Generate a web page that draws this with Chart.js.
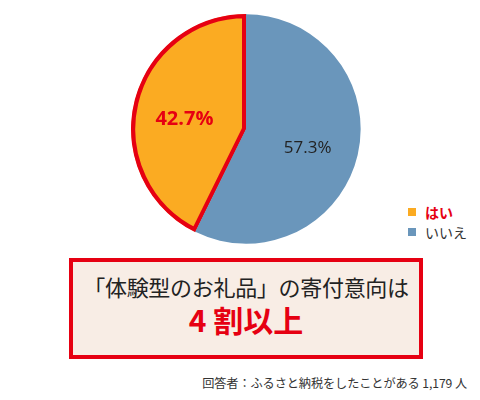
<!DOCTYPE html>
<html lang="ja">
<head>
<meta charset="utf-8">
<script src="https://cdn.jsdelivr.net/npm/chart.js@4.4.0/dist/chart.umd.min.js"></script>
<style>
    html, body {
        margin: 0;
        padding: 0;
        background: #fff;
        width: 480px;
        height: 400px;
        overflow: hidden;
        font-family: "Noto Sans CJK JP", "Noto Sans", sans-serif;
    }
    #chart-wrap {
        position: absolute;
        left: 131px;
        top: 14px;
        width: 230px;
        height: 230px;
    }
    #legend {
        position: absolute;
        left: 408px;
        top: 202px;
        font-size: 14px;
        line-height: 20px;
    }
    #legend .item {
        display: flex;
        align-items: center;
    }
    #legend .box {
        display: inline-block;
        width: 8px;
        height: 8px;
        margin-right: 9px;
    }
    #summary {
        position: absolute;
        left: 69px;
        top: 258px;
        width: 354px;
        height: 101px;
        box-sizing: border-box;
        border: 4px solid #e60012;
        background: #f8ede5;
        text-align: center;
    }
    #summary .line1 {
        position: absolute;
        left: 0;
        right: 0;
        top: 8px;
        font-size: 22px;
        color: #222;
        letter-spacing: -0.3px;
    }
    #summary .line2 {
        position: absolute;
        left: 0;
        right: 0;
        top: 35px;
        font-size: 30px;
        font-weight: bold;
        color: #e60012;
    }
    #note {
        position: absolute;
        right: 13px;
        top: 374px;
        font-size: 12.2px;
        color: #333;
        letter-spacing: -0.1px;
    }
</style>
</head>
<body>
<div id="chart-wrap"><canvas id="pieChart"></canvas></div>
<div id="legend"></div>
<div id="summary">
    <div class="line1">「体験型のお礼品」の寄付意向は</div>
    <div class="line2">4 割以上</div>
</div>
<div id="note">回答者：ふるさと納税をしたことがある 1,179 人</div>

<script>
const labels = ['はい', 'いいえ'];
const values = [42.7, 57.3];
const sliceColors = ['#fbab22', '#6a96bb'];
const legendTextColors = ['#e60012', '#333'];

// draws the percentage inside each slice
const sliceLabels = {
    id: 'sliceLabels',
    afterDatasetsDraw(chart) {
        const ctx = chart.ctx;
        const arcs = chart.getDatasetMeta(0).data;
        arcs.forEach(function(arc, i) {
            const mid = (arc.startAngle + arc.endAngle) / 2;
            const r = arc.outerRadius * 0.55;
            const x = arc.x + Math.cos(mid) * r;
            const y = arc.y + Math.sin(mid) * r + 5;
            ctx.save();
            ctx.textAlign = 'center';
            ctx.textBaseline = 'middle';
            if (i === 0) {
                ctx.font = 'bold 20px "Open Sans", "Noto Sans", sans-serif';
                ctx.fillStyle = '#e60012';
            } else {
                ctx.font = '17px "Open Sans", "Noto Sans", sans-serif';
                ctx.fillStyle = '#222';
            }
            ctx.fillText(values[i].toFixed(1) + '%', x, y);
            ctx.restore();
        });
    }
};

function buildLegend() {
    const container = document.getElementById('legend');
    let html = '';
    labels.forEach(function(label, i) {
        html += `
            <div class="item">
                <span class="box" style="background:${sliceColors[i]}"></span>
                <span style="color:${legendTextColors[i]};${i === 0 ? 'font-weight:bold;' : ''}">${label}</span>
            </div>
        `;
    });
    container.innerHTML = html;
}

document.addEventListener('DOMContentLoaded', function() {
    const ctx = document.getElementById('pieChart').getContext('2d');
    new Chart(ctx, {
        type: 'pie',
        data: {
            labels: labels,
            datasets: [{
                data: values,
                backgroundColor: sliceColors,
                borderColor: ['#e60012', '#6a96bb'],
                borderWidth: [4, 0],
                borderAlign: 'inner',
                hoverBorderWidth: 0,
                hoverOffset: 0
            }]
        },
        options: {
            responsive: true,
            maintainAspectRatio: false,
            animation: false,
            events: [],
            rotation: -(values[0] / 100) * 360,
            layout: { padding: 0 },
            plugins: {
                legend: { display: false },
                tooltip: { enabled: false }
            }
        },
        plugins: [sliceLabels]
    });
    buildLegend();
});
</script>
</body>
</html>
